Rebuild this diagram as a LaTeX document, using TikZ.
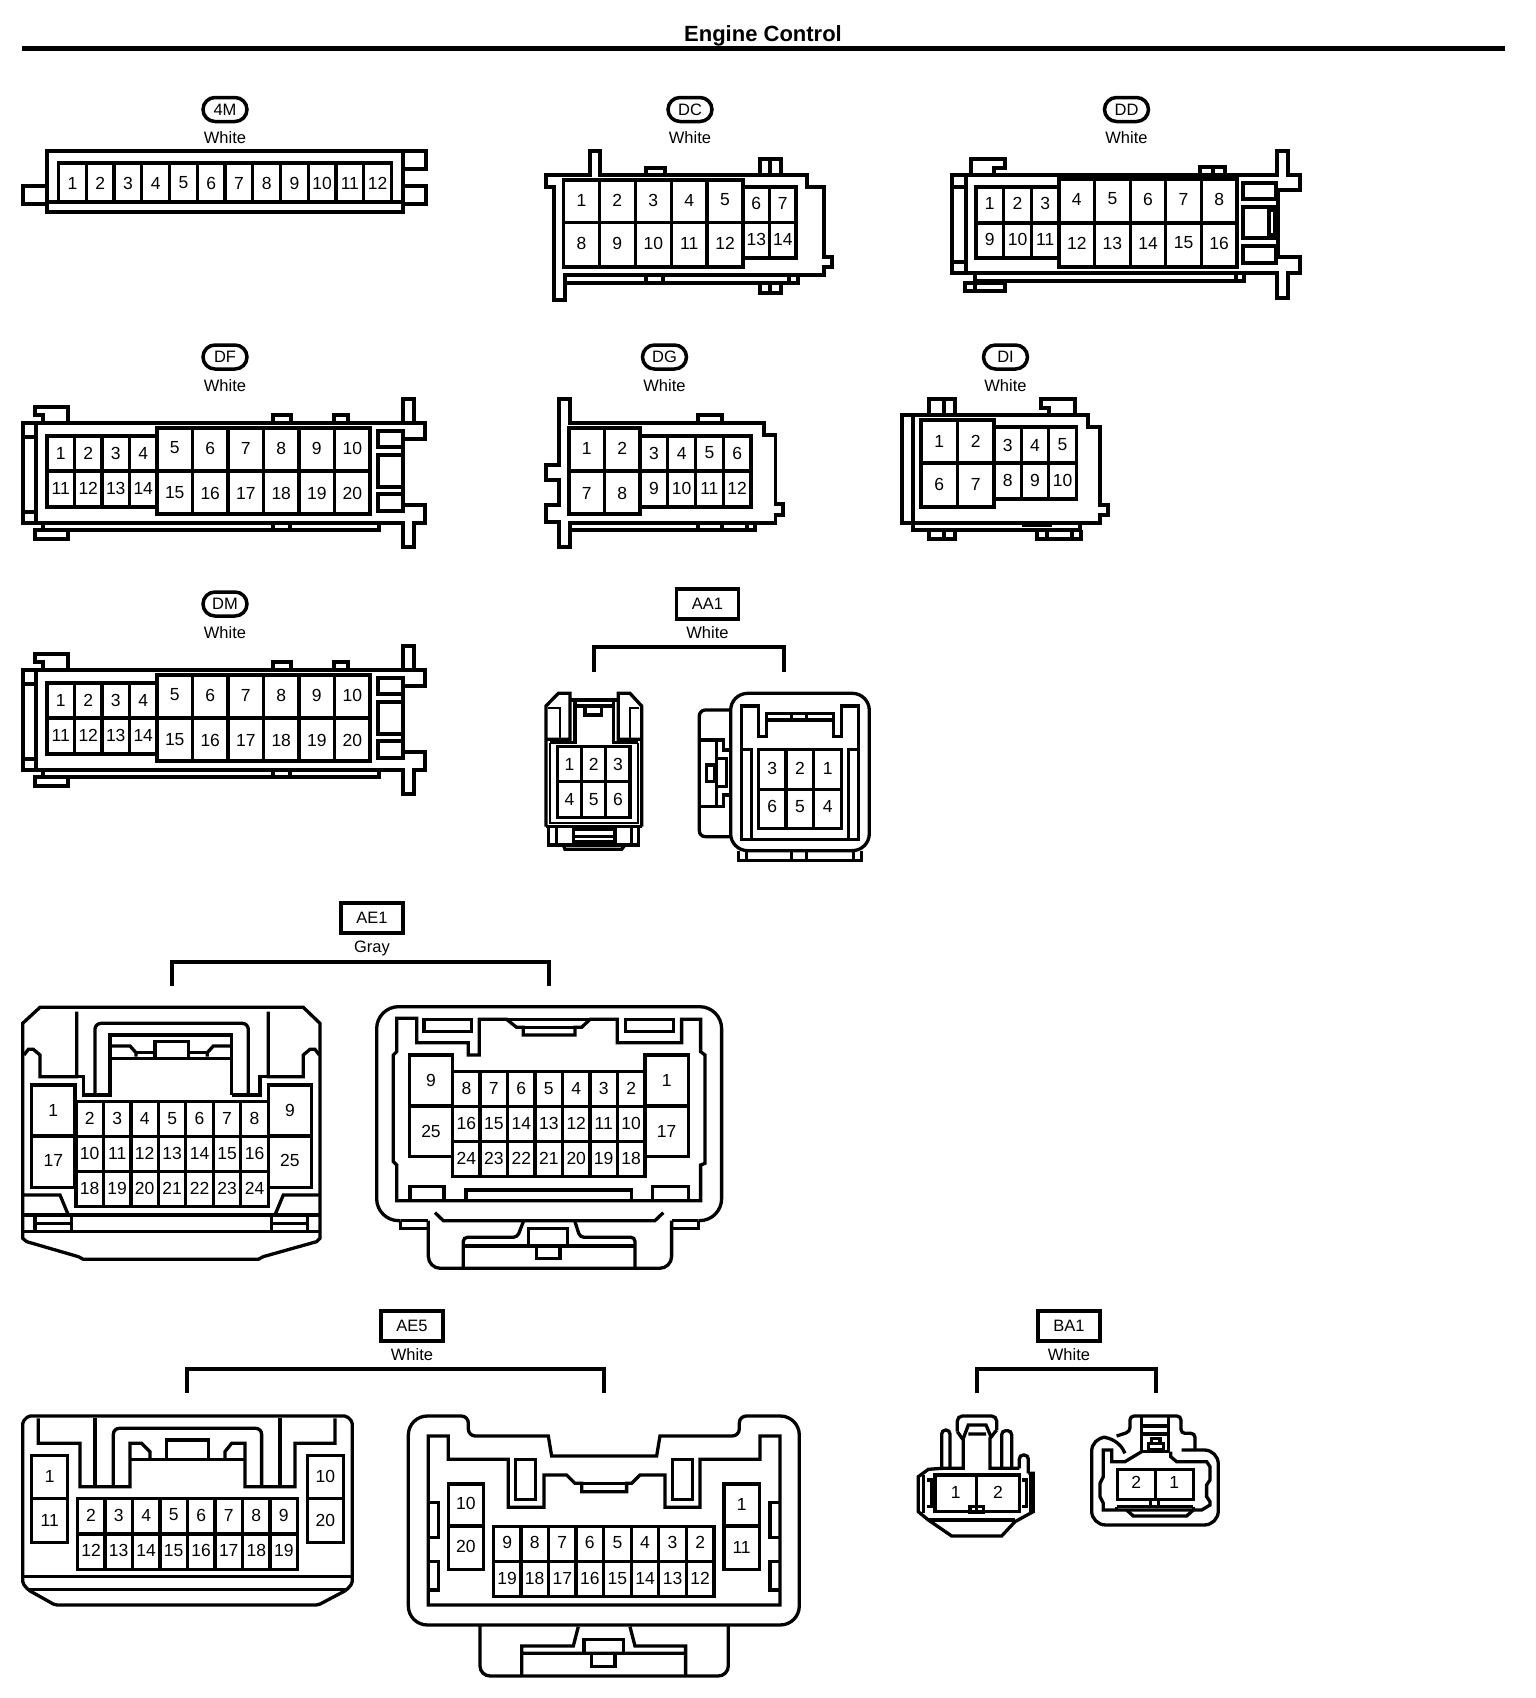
\documentclass[tikz,border=0pt]{standalone}
\usepackage{fontspec}
\setmainfont{Liberation Sans}
\usetikzlibrary{positioning}
\tikzset{
	body/.style={line width=3.3pt},
	thinline/.style={line width=2pt},
	bracket/.style={line width=3.3pt},
	pinline/.style={line width=3.3pt},
	pintext/.style={inner sep=0pt, font=\fontsize{17.5}{18}\selectfont},
	ovallabel/.style={draw, line width=3.5pt, rounded corners=12pt, minimum width=44pt, minimum height=24pt, inner sep=0pt, font=\fontsize{16.5}{17}\selectfont},
	boxlabel/.style={draw, line width=3.3pt, minimum width=62pt, minimum height=30pt, inner sep=0pt, font=\fontsize{16.5}{17}\selectfont},
	colourtext/.style={inner sep=0pt, text height=12pt, text depth=0pt, font=\fontsize{16.5}{17}\selectfont},
	zoomed/.style={scale=0.3333}
}
\newcommand{\pinrow}[7]{%
	\foreach \pinlab [count=\pinidx from 0] in {#7} {
		\draw[pinline] ({#2+\pinidx*#3},#4) rectangle ({#2+(\pinidx+1)*#3},#5);
		\node[pintext] (#1-\pinlab) at ({#2+(\pinidx+.5)*#3},#6) {\pinlab};
	}}
\newcommand{\dfbody}[2]{%
	\begin{scope}[shift={(0,#2)}]
		\draw[body] (403,423) -- (414,423) -- (414,399) -- (403,399) -- cycle;
		\draw[body] (414,423) -- (425,423) -- (425,439) -- (403,439) -- (403,505) -- (425,505) -- (425,523) -- (414,523) -- (414,547) -- (403,547) -- (403,523) -- (23,523) -- (23,423) -- (403,423);
		\draw[body] (36,423) -- (36,523) (23,437) -- (36,437) (23,512) -- (36,512);
		\draw[body] (43,423) -- (43,415) -- (35,415) -- (35,407) -- (68,407) -- (68,423);
		\draw[body] (273,423) -- (273,415) -- (291,415) -- (291,423) (334,423) -- (334,415) -- (348,415) -- (348,423);
		\draw[body] (43,523) -- (43,530) -- (379,530) -- (379,523) (273,523) -- (273,530) (290,523) -- (290,530);
		\draw[body] (35,530) rectangle (68,539);
		\draw[body] (378,431) rectangle (403,447) (378,455) rectangle (403,487) (378,494) rectangle (403,511);
		\pinrow{#1a}{47}{27.5}{436}{471}{453}{1,2,3,4}
		\pinrow{#1b}{47}{27.5}{471}{507}{488}{11,12,13,14}
		\pinrow{#1c}{157}{35.5}{428}{471}{448}{5,6,7,8,9,10}
		\pinrow{#1d}{157}{35.5}{471}{514}{493}{15,16,17,18,19,20}
	\end{scope}}
\begin{document}
\begin{tikzpicture}[x=1pt, y=-1pt, node distance=28pt]
	\useasboundingbox (0,0) rectangle (1536,1698);
	\fill[white] (0,0) rectangle (1536,1698);

	\node[inner sep=0pt, font=\bfseries\fontsize{22}{23}\selectfont] (title) at (763,36) {Engine Control};
	\coordinate (ruleleft) at (22,48.5);
	\coordinate (ruleright) at (1505,48.5);
	\draw[line width=5pt] (ruleleft) -- (ruleright);

	\node[ovallabel] (fourm) at (225,109.5) {4M};
	\node[colourtext, below of=fourm] (fourmcolour) {White};
	\draw[body] (47,151) rectangle (403,212);
	\draw[body] (47,202) -- (403,202);
	\draw[body] (403,151) -- (426,151) -- (426,169) -- (403,169) (403,186) -- (426,186) -- (426,204) -- (403,204);
	\draw[body] (47,186) -- (23,186) -- (23,204) -- (47,204);
	\pinrow{fourmpin}{58.5}{27.75}{163}{202}{183}{1,2,3,4,5,6,7,8,9,10,11,12}

	\node[ovallabel] (dc) at (690,109.5) {DC};
	\node[colourtext, below of=dc] (dccolour) {White};
	\draw[body] (590,175) -- (546,175) -- (546,187) -- (554,187) -- (554,300) -- (565,300) -- (565,275) -- (824,275) -- (824,267) -- (832,267) -- (832,257) -- (824,257) -- (824,187) -- (807,187) -- (807,175) -- (600,175) -- (600,151) -- (590,151) -- cycle;
	\draw[body] (565,283) -- (798,283) -- (798,275);
	\draw[body] (646,175) -- (646,168) -- (665,168) -- (665,175) (760,175) -- (760,159) -- (781,159) -- (781,175) (770,159) -- (770,175);
	\draw[body] (646,275) -- (646,283) (663,275) -- (663,283) (760,283) -- (760,293) -- (781,293) -- (781,283) (770,283) -- (770,293) (789,275) -- (789,283);
	\pinrow{dca}{563.5}{35.9}{180}{222.5}{200}{1,2,3,4,5}
	\pinrow{dcb}{563.5}{35.9}{222.5}{267}{243}{8,9,10,11,12}
	\pinrow{dcc}{743}{26.5}{187}{222.5}{203}{6,7}
	\pinrow{dcd}{743}{26.5}{222.5}{258}{239}{13,14}

	\node[ovallabel] (dd) at (1126.5,109.5) {DD};
	\node[colourtext, below of=dd] (ddcolour) {White};
	\draw[body] (1277,175) -- (952,175) -- (952,273) -- (1277,273) -- (1277,298) -- (1288,298) -- (1288,273) -- (1300,273) -- (1300,257) -- (1278,257) -- (1278,190) -- (1300,190) -- (1300,175) -- (1288,175) -- (1288,151) -- (1277,151) -- cycle;
	\draw[body] (966,175) -- (966,273) (952,187) -- (966,187) (952,262) -- (966,262);
	\draw[body] (971,175) -- (971,159) -- (1005,159) -- (1005,168) -- (994,168) -- (994,175);
	\draw[body] (1200,175) -- (1200,167) -- (1225,167) -- (1225,175) (1213,167) -- (1213,175);
	\draw[body] (975,273) -- (975,281) -- (1244,281) -- (1244,273) (1236,273) -- (1236,281);
	\draw[body] (965,283) rectangle (1005,291) (975,281) -- (975,291);
	\draw[body] (1243,183) rectangle (1276,199) (1243,207) rectangle (1276,238) (1243,246) rectangle (1276,263);
	\draw[body] (1269,210) rectangle (1275,235);
	\pinrow{dda}{976}{27.67}{187}{223}{203}{1,2,3}
	\pinrow{ddb}{976}{27.67}{223}{258}{239}{9,10,11}
	\pinrow{ddc}{1059}{35.6}{179}{223}{199}{4,5,6,7,8}
	\pinrow{ddd}{1059}{35.6}{223}{267}{243}{12,13,14,15,16}

	\node[ovallabel] (df) at (225,357) {DF};
	\node[colourtext, below of=df] (dfcolour) {White};
	\dfbody{df}{0}

	\node[ovallabel] (dg) at (664.5,357) {DG};
	\node[colourtext, below of=dg] (dgcolour) {White};
	\draw[body] (559,522) -- (546,522) -- (546,505) -- (559,505) -- (559,480) -- (546,480) -- (546,465) -- (559,465) -- (559,399) -- (570,399) -- (570,423) -- (764,423) -- (764,435) -- (775.5,435) -- (775.5,504) -- (783,504) -- (783,515) -- (775.5,515) -- (775.5,523) -- (570,523) -- (570,547) -- (559,547) -- cycle;
	\draw[body] (570,530) -- (755,530) -- (755,523) (698,523) -- (698,530) (722,523) -- (722,530) (747,523) -- (747,530);
	\draw[body] (698,423) -- (698,415) -- (722,415) -- (722,423);
	\pinrow{dga}{569}{35.5}{428}{471}{448}{1,2}
	\pinrow{dgb}{569}{35.5}{471}{514}{493}{7,8}
	\pinrow{dgc}{640}{27.75}{436}{471}{453}{3,4,5,6}
	\pinrow{dgd}{640}{27.75}{471}{507}{488}{9,10,11,12}

	\node[ovallabel] (di) at (1005.5,357) {DI};
	\node[colourtext, below of=di] (dicolour) {White};
	\draw[body] (902,415) -- (1088,415) -- (1088,427) -- (1100,427) -- (1100,505) -- (1108,505) -- (1108,515) -- (1100,515) -- (1100,523) -- (902,523) -- cycle;
	\draw[body] (913,415) -- (913,523);
	\draw[body] (913,523) -- (913,530) -- (1080,530) -- (1080,523);
	\draw[body] (929,415) -- (929,399) -- (955,399) -- (955,415) (944,399) -- (944,415);
	\draw[body] (1049,415) -- (1049,408) -- (1041,408) -- (1041,399) -- (1075,399) -- (1075,415);
	\draw[body] (929,530) -- (929,539) -- (955,539) -- (955,530) (944,530) -- (944,539);
	\draw[body] (1037,530) -- (1037,539) -- (1081,539) -- (1081,530) (1047,530) -- (1047,539) (1072,530) -- (1072,539);
	\draw[thinline] (1022,526) -- (1052,526);
	\pinrow{dia}{921}{36.5}{420}{463}{441}{1,2}
	\pinrow{dib}{921}{36.5}{463}{507}{484}{6,7}
	\pinrow{dic}{994}{27.4}{427}{463}{445}{3,4,5}
	\pinrow{did}{994}{27.4}{463}{499}{480}{8,9,10}

	\node[ovallabel] (dm) at (225,604) {DM};
	\node[colourtext, below of=dm] (dmcolour) {White};
	\dfbody{dm}{247}

	\node[boxlabel] (aaone) at (707.5,604) {AA1};
	\node[colourtext, below of=aaone] (aaonecolour) {White};
	\coordinate (aaoneleft) at (594,672);
	\coordinate (aaonetop) at (689,647);
	\coordinate (aaoneright) at (784,672);
	\draw[bracket] (aaoneleft) |- (aaonetop) -| (aaoneright);
	\begin{scope}[shift={(520,580)}, zoomed]
		\draw[body] (78,740) -- (78,378) -- (115,340) -- (150,340) -- (150,478) -- (78,478);
		\draw[body] (365,740) -- (365,378) -- (330,340) -- (295,340) -- (295,478) -- (365,478);
		\draw[thinline] (85,385) -- (120,385) -- (120,475) (358,385) -- (330,385) -- (330,475);
		\draw[body] (150,360) -- (295,360) (165,378) -- (280,378) (165,360) -- (165,488) -- (90,488) (280,360) -- (280,488) -- (355,488);
		\draw[body] (195,385) -- (195,405) -- (245,405) -- (245,385);
		\draw[thinline] (90,488) -- (90,730) -- (355,730) -- (355,488);
		\draw[body] (78,740) -- (365,740) (85,740) -- (85,795) -- (355,795) -- (355,740) (110,745) -- (110,795) (335,745) -- (335,795);
		\draw[body] (160,795) -- (160,748) -- (285,748) -- (285,795) (160,770) -- (285,770) (160,785) -- (285,785);
		\draw[body] (130,795) -- (135,808) -- (305,808) -- (315,795);
		\pinrow{aaonea}{112}{72.7}{500}{605}{552}{1,2,3}
		\pinrow{aaoneb}{112}{72.7}{605}{712}{658}{4,5,6}
		\draw[body, rounded corners=17pt] (632,340) rectangle (1048,812);
		\draw[body] (665,378) -- (715,378) -- (715,470) -- (740,470) -- (740,400) -- (940,400) -- (940,470) -- (965,470) -- (965,378) -- (1015,378) -- (1015,778) -- (665,778) -- cycle;
		\draw[body] (740,420) -- (940,420) (815,400) -- (815,420) (860,400) -- (860,420);
		\draw[body] (665,508) -- (695,508) -- (695,778) (1015,508) -- (985,508) -- (985,778);
		\draw[body] (655,812) -- (655,842) -- (1025,842) -- (1025,812) (680,812) -- (680,842) (815,812) -- (815,842) (860,812) -- (860,842) (1000,812) -- (1000,842);
		\draw[body, rounded corners=6pt] (632,390) -- (538,390) -- (538,770) -- (632,770);
		\draw[body] (540,480) -- (610,480) -- (610,510) -- (630,510) (540,680) -- (610,680) -- (610,645) -- (630,645) (590,480) -- (590,680) (590,535) -- (620,535) -- (620,620) -- (590,620);
		\draw[body] (560,555) rectangle (585,605);
		\pinrow{aaonec}{715}{83.3}{508}{628}{565}{3,2,1}
		\pinrow{aaoned}{715}{83.3}{628}{745}{680}{6,5,4}
	\end{scope}

	\node[boxlabel] (aeone) at (372,918) {AE1};
	\node[colourtext, below of=aeone] (aeonecolour) {Gray};
	\coordinate (aeoneleft) at (172,986);
	\coordinate (aeonetop) at (372,962);
	\coordinate (aeoneright) at (549,986);
	\draw[bracket] (aeoneleft) |- (aeonetop) -| (aeoneright);
	\begin{scope}[shift={(0,900)}, zoomed]
		\draw[body] (68,370) -- (120,322) -- (910,322) -- (960,370) -- (960,1015) -- (950,1025) -- (790,1070) -- (775,1078) -- (250,1078) -- (235,1070) -- (80,1025) -- (68,1015) -- cycle;
		\draw[body] (230,335) -- (230,530) -- (120,530) -- (120,465) -- (100,448) -- (85,448) -- (72,465);
		\draw[body] (805,335) -- (805,530) -- (910,530) -- (910,465) -- (930,448) -- (945,448) -- (958,465);
		\draw[body] (230,530) -- (250,530) -- (250,585) -- (335,585) (805,530) -- (780,530) -- (780,585) -- (695,585);
		\draw[body, rounded corners=6pt] (285,585) -- (285,370) -- (745,370) -- (745,585);
		\draw[body] (330,585) -- (330,405) -- (695,405) -- (695,585) (330,475) -- (695,475);
		\draw[body] (330,438) -- (390,438) -- (408,458) -- (408,470) (695,438) -- (640,438) -- (622,458) -- (622,470);
		\draw[body] (465,470) -- (465,425) -- (565,425) -- (565,470) (408,458) -- (465,458) (565,458) -- (622,458);
		\draw[body] (68,885) -- (180,885) -- (205,945) (960,885) -- (850,885) -- (825,945);
		\draw[body] (68,945) -- (960,945) (68,995) -- (960,995);
		\draw[body] (105,945) -- (105,995) (215,945) -- (215,995) (815,945) -- (815,995) (922,945) -- (922,995) (105,970) -- (215,970) (815,970) -- (922,970);
		\pinrow{aeonea}{95}{130}{555}{708}{630}{1}
		\pinrow{aeoneb}{95}{130}{708}{862}{782}{17}
		\pinrow{aeonec}{805}{130}{555}{708}{630}{9}
		\pinrow{aeoned}{805}{130}{708}{862}{782}{25}
		\pinrow{aeonee}{228}{82.4}{605}{710}{655}{2,3,4,5,6,7,8}
		\pinrow{aeonef}{228}{82.4}{710}{815}{760}{10,11,12,13,14,15,16}
		\pinrow{aeoneg}{228}{82.4}{815}{920}{865}{18,19,20,21,22,23,24}
	\end{scope}
	\begin{scope}[shift={(360,990)}, zoomed]
		\draw[body, rounded corners=22pt] (122,692) -- (50,692) -- (50,50) -- (1085,50) -- (1085,692) -- (1015,692);
		\draw[body] (122,692) -- (205,692) (1015,692) -- (935,692);
		\draw[body] (110,85) -- (170,85) -- (170,158) -- (325,158) -- (325,195) -- (358,195) -- (358,88) -- (440,88) -- (470,112) -- (490,112) -- (490,135) -- (645,135) -- (645,112) -- (665,112) -- (690,88) -- (772,88) -- (772,158) -- (965,158) -- (965,88) -- (1022,88) -- (1022,185) -- (1035,195) -- (1035,520) -- (1022,525) -- (1022,632) -- (110,632) -- (110,525) -- (100,515) -- (100,195) -- (110,185) -- cycle;
		\draw[body] (192,88) rectangle (335,125) (797,88) rectangle (940,125) (440,88) -- (690,88) (470,112) -- (665,112);
		\draw[body] (150,632) -- (150,590) -- (252,590) -- (252,632) (878,632) -- (878,590) -- (985,590) -- (985,632) (318,632) -- (318,600) -- (815,600) -- (815,632);
		\draw[body] (225,668) -- (250,692) -- (885,692) -- (910,668);
		\draw[body] (122,692) -- (122,715) -- (205,715);
		\draw[body] (1015,692) -- (1015,715) -- (935,715);
		\draw[body, rounded corners=12pt] (205,692) -- (205,835) -- (935,835) -- (935,692);
		\draw[body, rounded corners=4pt] (490,695) -- (472,742) -- (310,742) -- (310,835) (645,695) -- (660,742) -- (825,742) -- (825,835);
		\draw[body] (310,768) -- (825,768) (505,768) -- (505,715) -- (622,715) -- (622,768) (530,770) -- (530,805) -- (600,805) -- (600,770);
		\pinrow{aeoneh}{148}{130}{195}{348}{270}{9}
		\pinrow{aeonei}{148}{130}{348}{500}{425}{25}
		\pinrow{aeonej}{855}{130}{195}{348}{272}{1}
		\pinrow{aeonek}{855}{130}{348}{500}{425}{17}
		\pinrow{aeonel}{278}{82.4}{245}{350}{295}{8,7,6,5,4,3,2}
		\pinrow{aeonem}{278}{82.4}{350}{455}{400}{16,15,14,13,12,11,10}
		\pinrow{aeonen}{278}{82.4}{455}{560}{505}{24,23,22,21,20,19,18}
	\end{scope}

	\node[boxlabel] (aefive) at (412,1326) {AE5};
	\node[colourtext, below of=aefive] (aefivecolour) {White};
	\coordinate (aefiveleft) at (187,1393);
	\coordinate (aefivetop) at (412,1369);
	\coordinate (aefiveright) at (604,1393);
	\draw[bracket] (aefiveleft) |- (aefivetop) -| (aefiveright);
	\begin{scope}[shift={(0,1310)}, zoomed]
		\draw[body, rounded corners=2pt] (68,335) -- (85,318) -- (1040,318) -- (1057,335) -- (1057,820) -- (1040,840) -- (955,885) -- (165,885) -- (85,840) -- (68,820) -- cycle;
		\draw[body] (115,325) -- (115,400) -- (240,400) -- (240,530) -- (390,530) -- (390,400) -- (425,400) -- (450,425) -- (450,445);
		\draw[body] (1005,325) -- (1005,400) -- (885,400) -- (885,530) -- (735,530) -- (735,400) -- (695,400) -- (675,425) -- (675,445);
		\draw[body, rounded corners=6pt] (340,530) -- (340,355) -- (785,355) -- (785,530);
		\draw[body] (285,530) -- (285,325) (840,530) -- (840,325) (390,448) -- (735,448) (500,448) -- (500,390) -- (625,390) -- (625,448);
		\draw[body] (68,800) -- (1057,800) (85,838) -- (1040,838);
		\pinrow{aefivea}{95}{108}{437}{565}{498}{1}
		\pinrow{aefiveb}{95}{108}{565}{697}{632}{11}
		\pinrow{aefivec}{922}{108}{437}{565}{498}{10}
		\pinrow{aefived}{922}{108}{565}{697}{630}{20}
		\pinrow{aefivee}{232}{82.6}{565}{672}{615}{2,3,4,5,6,7,8,9}
		\pinrow{aefivef}{232}{82.6}{672}{778}{722}{12,13,14,15,16,17,18,19}
	\end{scope}
	\begin{scope}[shift={(400,1310)}, zoomed]
		\draw[body] (25,630) [rounded corners=19pt] -- (25,318) [rounded corners=7pt] -- (205,318) -- (205,378) [sharp corners] -- (445,378) -- (455,438) -- (770,438) -- (780,378) [rounded corners=7pt] -- (1018,378) -- (1018,318) [rounded corners=19pt] -- (1198,318) -- (1198,945) -- (25,945) -- (25,630);
		\draw[body] (85,378) -- (145,378) -- (145,448) -- (325,448) -- (325,592) -- (432,592) -- (432,495) -- (500,495) -- (525,520) -- (545,520) -- (545,545) -- (680,545) -- (680,520) -- (695,520) -- (720,495) -- (795,495) -- (795,592) -- (900,592) -- (900,448) -- (1080,448) -- (1080,378) -- (1140,378) -- (1140,885) -- (85,885) -- cycle;
		\draw[body] (347,448) rectangle (407,568) (817,448) rectangle (878,568) (525,520) -- (695,520);
		\draw[body] (85,578) -- (115,578) -- (115,682) -- (85,682) (85,755) -- (115,755) -- (115,840) -- (85,840);
		\draw[body] (1140,578) -- (1110,578) -- (1110,682) -- (1140,682) (1140,755) -- (1110,755) -- (1110,840) -- (1140,840);
		\draw[body, rounded corners=10pt] (240,945) -- (240,1098) -- (985,1098) -- (985,945);
		\draw[body] (535,950) -- (520,1008) -- (365,1008) -- (365,1098) (690,950) -- (705,1008) -- (857,1008) -- (857,1098) (365,1030) -- (857,1030);
		\draw[body] (552,1030) -- (552,988) -- (670,988) -- (670,1030) (575,1035) -- (575,1070) -- (645,1070) -- (645,1035);
		\pinrow{aefiveg}{145}{105}{522}{648}{580}{10}
		\pinrow{aefiveh}{145}{105}{648}{778}{710}{20}
		\pinrow{aefivei}{972}{106}{522}{648}{583}{1}
		\pinrow{aefivej}{972}{106}{648}{778}{712}{11}
		\pinrow{aefivek}{280}{82.75}{650}{755}{698}{9,8,7,6,5,4,3,2}
		\pinrow{aefivel}{280}{82.75}{755}{860}{805}{19,18,17,16,15,14,13,12}
	\end{scope}

	\node[boxlabel] (baone) at (1069,1326) {BA1};
	\node[colourtext, below of=baone] (baonecolour) {White};
	\coordinate (baoneleft) at (977,1393);
	\coordinate (baonetop) at (1069,1369);
	\coordinate (baoneright) at (1156,1393);
	\draw[bracket] (baoneleft) |- (baonetop) -| (baoneright);
	\begin{scope}[shift={(900,1310)}, zoomed]
		\draw[body] (358,475) -- (270,475) -- (270,385) -- (290,360) (172,365) -- (190,390) -- (190,475) -- (125,475) -- (85,478) -- (55,500) -- (55,605) -- (85,630) -- (155,678) -- (305,678) -- (345,635) -- (400,605) -- (400,490) -- (385,490);
		\draw[body, rounded corners=5pt] (172,365) -- (172,318) -- (290,318) -- (290,360);
		\draw[body, rounded corners=4pt] (385,490) -- (385,435) -- (358,435) -- (358,475);
		\draw[body, rounded corners=4pt] (125,475) -- (125,360) -- (150,360) -- (150,475);
		\draw[body, rounded corners=4pt] (305,475) -- (305,362) -- (335,362) -- (335,475);
		\draw[body] (190,385) -- (205,345) -- (258,345) -- (275,385) (205,372) -- (258,372);
		\draw[body] (85,630) -- (345,630);
		\pinrow{baonea}{105}{125}{495}{605}{548}{1}
		\pinrow{baoneb}{230}{128}{495}{605}{548}{2}
		\draw[body] (210,590) rectangle (250,608);
		\draw[body] (70,495) -- (70,610) (80,510) -- (95,510) -- (95,590) -- (80,590) (365,510) -- (380,510) -- (380,590) -- (365,590) (392,495) -- (392,610);
		\draw[body, rounded corners=14pt] (675,430) -- (650,382) -- (575,382) -- (575,645) -- (955,645) -- (955,420) -- (845,420);
		\draw[body, rounded corners=4pt] (650,378) -- (690,365) -- (690,318) -- (843,318) -- (843,370) -- (885,370) -- (885,418);
		\draw[body] (725,318) -- (725,425) -- (805,425) -- (805,318) (725,348) -- (805,348) (725,372) -- (805,372);
		\draw[body] (745,400) rectangle (790,420) (755,400) -- (755,385) -- (780,385) -- (780,400);
		\draw[body] (812,425) -- (812,440) -- (830,455) -- (920,455) -- (930,470) -- (930,510) -- (920,525) -- (920,560) -- (930,575) -- (930,585) -- (905,600) -- (610,600) -- (610,580) -- (600,560) -- (600,520) -- (610,500) -- (610,420) -- (635,420) -- (635,455) -- (675,455) -- (725,425);
		\draw[body] (680,600) -- (700,618) -- (860,618) -- (880,600);
		\draw[body] (650,590) -- (880,590) (650,590) -- (650,600) (880,590) -- (880,600) (752,568) -- (752,590) (775,568) -- (775,590);
		\pinrow{baonec}{652}{114}{478}{568}{518}{2,1}
	\end{scope}
\end{tikzpicture}
\end{document}
